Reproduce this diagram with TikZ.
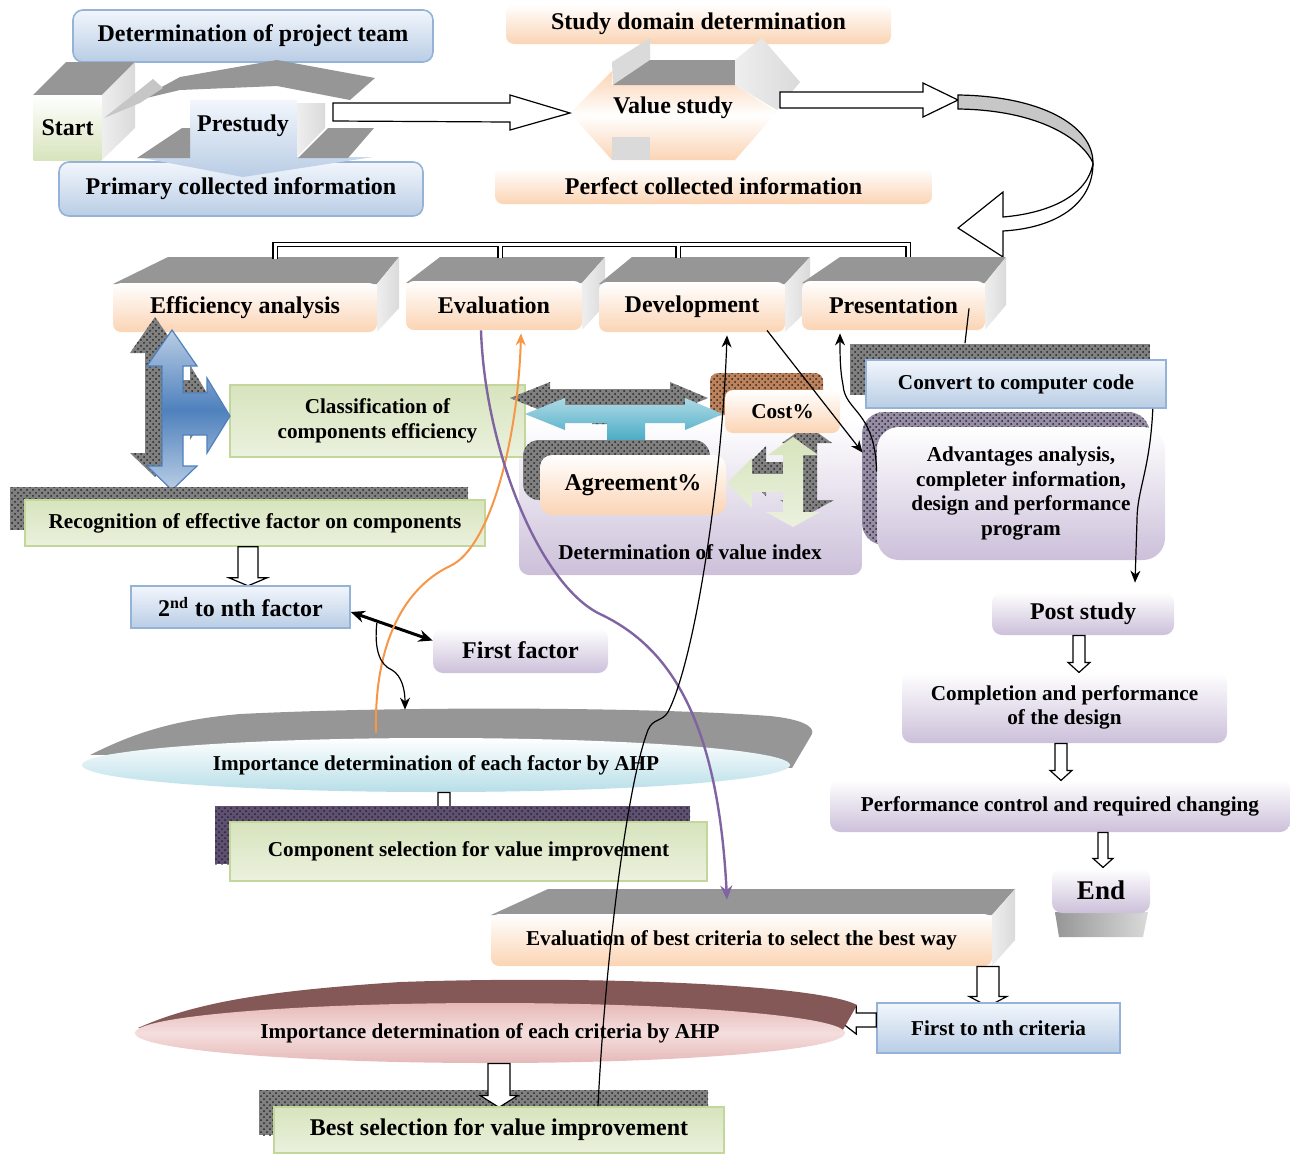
\documentclass[tikz,border=0pt]{standalone}
\usepackage{fontspec}
\setmainfont{Liberation Serif}
\usetikzlibrary{shapes.geometric, arrows.meta, positioning, calc, patterns}
\definecolor{cBlueTop}{RGB}{242, 246, 252}
\definecolor{cBlueBot}{RGB}{185, 205, 229}
\definecolor{bBlue}{RGB}{149, 179, 215}
\definecolor{bArrowBlue}{RGB}{79, 129, 189}
\definecolor{cPeach}{RGB}{251, 212, 180}
\definecolor{cGreenA}{RGB}{215, 228, 189}
\definecolor{cGreenB}{RGB}{235, 241, 222}
\definecolor{bGreen}{RGB}{195, 214, 155}
\definecolor{cLilac}{RGB}{204, 192, 218}
\definecolor{cSky}{RGB}{183, 222, 232}
\definecolor{cRose}{RGB}{230, 185, 184}
\definecolor{cRoseMid}{RGB}{244, 222, 221}
\definecolor{cMaroon}{RGB}{133, 88, 88}
\definecolor{cTopGray}{RGB}{150, 150, 150}
\definecolor{cSideGray}{RGB}{218, 218, 218}
\definecolor{cTeal}{RGB}{75, 172, 198}
\definecolor{cOrange}{RGB}{247, 150, 70}
\definecolor{cPurple}{RGB}{128, 100, 162}
\definecolor{cBrown}{RGB}{190, 130, 90}
\definecolor{cShdPlum}{RGB}{95, 80, 115}
\definecolor{cShdLilac}{RGB}{150, 140, 165}

% shapes of the split arrows, used twice (shadow and face)
\newcommand{\tealshape}{(525,414) -- (565,398) -- (565,405) -- (685,405) -- (685,398) -- (723,414) -- (685,430) -- (685,423) -- (645,423) -- (645,440) -- (607,440) -- (607,423) -- (565,423) -- (565,430) -- cycle}
\newcommand{\blueshape}{(172,330) -- (197,366) -- (183,366) -- (183,393) -- (207,393) -- (207,378) -- (230,416) -- (207,453) -- (207,435) -- (183,435) -- (183,466) -- (197,466) -- (172,490) -- (147,466) -- (162,466) -- (162,366) -- (147,366) -- cycle}
\newcommand{\greenshape}{(793,437) -- (818,455) -- (803,455) -- (803,512) -- (820,512) -- (793,527) -- (766,512) -- (783,512) -- (783,492) -- (752,492) -- (752,508) -- (727,483) -- (752,458) -- (752,474) -- (783,474) -- (783,455) -- (768,455) -- cycle}
% hollow block arrow: anchor, dx, shaft, half shaft, half head, head
\newcommand{\blockdown}[6]{%
  \draw[hollow] ($(#1)+(#2-#4,0)$) -- ++(2*#4,0) -- ++(0,#3) -- ++(#5-#4,0)
    -- ++(-#5,#6) -- ++(-#5,-#6) -- ++(#5-#4,0) -- cycle;}

\begin{document}
\begin{tikzpicture}[
    x=0.5pt, y=-0.5pt,
    >=Stealth,
    txtbig/.style={font=\bfseries\fontsize{12}{14}\selectfont},
    txtsmall/.style={font=\bfseries\fontsize{10.6}{12.2}\selectfont},
    bluebox/.style={draw=bBlue, line width=0.8pt, top color=cBlueTop, bottom color=cBlueBot, inner sep=0pt, align=center},
    peachbox/.style={rounded corners=4pt, top color=white, bottom color=cPeach, inner sep=0pt, align=center},
    greenbox/.style={draw=bGreen, line width=0.8pt, top color=cGreenA, bottom color=cGreenB, inner sep=0pt, align=center},
    lilacbox/.style={rounded corners=5pt, top color=white, bottom color=cLilac, inner sep=0pt, align=center},
    topface/.style={fill=cTopGray},
    sideface/.style={left color=cSideGray!45, right color=cSideGray},
    hollow/.style={draw=black, fill=white, line width=0.6pt},
    shd/.style={preaction={fill=#1}, pattern=crosshatch dots, pattern color=black!85},
    shd/.default=black!50,
    bracket/.style={double, line width=0.6pt, double distance=1.5pt},
    link/.style={-{Stealth[length=6pt, width=5pt]}, line width=0.6pt}
]
\useasboundingbox (0,0) rectangle (1290,1153);

% Prestudy
\node[bluebox, rounded corners=5pt, minimum width=180pt, minimum height=26pt, txtbig] (team) at (253,36) {Determination of project team};
\node[bluebox, rounded corners=5pt, minimum width=182pt, minimum height=27pt, txtbig] (prim) at (241,189) {Primary collected information};

\fill[topface] (33,95) -- (66,62) -- (135,62) -- (102,95) -- cycle;
\shade[sideface] (102,95) -- (135,62) -- (135,128) -- (102,160) -- cycle;
\node[top color=white, bottom color=cGreenA, minimum width=34pt, minimum height=32.5pt, inner sep=0pt, txtbig] (start) at (67.5,127.5) {Start};
\fill[topface] (350,100) -- (375,78) -- (277,60) -- (180,77) -- (138,100) -- (180,90) -- (277,86) -- cycle;
\fill[gray!45] (104,118) -- (153,79) -- (163,88) -- (140,103) -- cycle;
\shade[top color=cBlueTop, bottom color=cBlueBot] (190,100) -- (297,100) -- (297,157) -- (373,157) -- (243,177) -- (137,157) -- (190,157) -- cycle;
\shade[sideface] (297,103) -- (325,103) -- (325,128) -- (297,157) -- cycle;
\fill[topface] (137,158) -- (182,128) -- (190,128) -- (190,158) -- cycle;
\fill[topface] (298,158) -- (328,128) -- (374,128) -- (348,158) -- cycle;
\node[txtbig] (pre) at (243,126) {Prestudy};

% Value study
\node[peachbox, minimum width=192.5pt, minimum height=20pt, txtbig] (domain) at (698.5,24) {Study domain determination};
\node[peachbox, minimum width=218.5pt, minimum height=18pt, txtbig] (perf) at (713.5,186) {Perfect collected information};
\shade[top color=cPeach, bottom color=cPeach, middle color=white] (570,113) -- (612,71) -- (612,85) -- (735,85) -- (777,112) -- (735,160) -- (612,160) -- cycle;
\fill[cSideGray] (612,62) -- (650,38) -- (650,60) -- (613,85) -- cycle;
\fill[topface] (613,85) -- (650,60) -- (735,60) -- (735,85) -- cycle;
\shade[sideface] (735,60) -- (762,38) -- (800,82) -- (777,110) -- (735,85) -- cycle;
\fill[cSideGray] (612,137) -- (650,137) -- (650,160) -- (612,160) -- cycle;
\node[txtbig] (val) at (673,108) {Value study};

\coordinate (preR) at (333,112);
\coordinate (valL) at (570,113);
\coordinate (valR) at (780,100);
\coordinate (turnA) at (958,100);
\draw[hollow] ($(preR)+(0,-9)$) -- ++(177,0) -- ++(0,-8) -- (valL) -- ++(-60,17) -- ++(0,-8) -- ($(preR)+(0,9)$) -- cycle;
\draw[hollow] ($(valR)+(0,-8)$) -- ++(143,0) -- ++(0,-9) -- (turnA) -- ++(-35,17) -- ++(0,-9) -- ($(valR)+(0,8)$) -- cycle;
\fill[black!22, draw=black, line width=0.6pt] (958,95) .. controls (1040,96) and (1093,125) .. (1093,163) .. controls (1083,140) and (1040,110) .. (958,109) -- cycle;
\draw[hollow] (1093,163) .. controls (1093,205) and (1055,228) .. (1003,231) -- (1003,257) -- (958,228) -- (1003,192) -- (1003,217) .. controls (1050,213) and (1088,195) .. (1093,163) -- cycle;

% Study phases
\fill[topface] (113,284) -- (168,257) -- (399,257) -- (377,284) -- cycle;
\shade[sideface] (377,284) -- (399,257) -- (399,308) -- (377,332) -- cycle;
\fill[topface] (406,283) -- (440,257) -- (605,257) -- (582,283) -- cycle;
\shade[sideface] (582,283) -- (605,257) -- (605,305) -- (582,330) -- cycle;
\fill[topface] (599,284) -- (632,257) -- (810,257) -- (785,284) -- cycle;
\shade[sideface] (785,284) -- (810,257) -- (810,308) -- (785,332) -- cycle;
\fill[topface] (802,283) -- (840,257) -- (1006,257) -- (985,283) -- cycle;
\shade[sideface] (985,283) -- (1006,257) -- (1006,305) -- (985,330) -- cycle;
\node[peachbox, minimum width=132pt, minimum height=24.5pt, txtbig] (effic) at (245,307.5) {Efficiency analysis};
\node[peachbox, minimum width=88pt, minimum height=24.5pt, txtbig] (evalu) at (494,305.5) {Evaluation};
\node[peachbox, minimum width=93pt, minimum height=25pt, txtbig] (devel) at (692,307) {Development};
\node[peachbox, minimum width=91.5pt, minimum height=24.5pt, txtbig] (presen) at (893.5,305.5) {Presentation};

\draw[bracket] ($(effic.north)+(30,-24)$) |- ($(presen.north)+(14.5,-36)$) -- ++(0,12);
\draw[bracket] ($(evalu.north)+(6,-35)$) -- ++(0,12);
\draw[bracket] ($(devel.north)+(-14,-36)$) -- ++(0,12);

% Presentation side
\fill[shd] (850,344) rectangle (1150,395);
\node[bluebox, minimum width=150pt, minimum height=24pt, txtsmall] (conv) at (1016,384) {Convert to computer code};
\fill[shd=cShdLilac, rounded corners=11pt] (862,412) rectangle (1150,545);
\node[lilacbox, rounded corners=11pt, minimum width=144pt, minimum height=66.5pt, txtsmall] (adv) at (1021,493.5) {Advantages analysis,\\completer information,\\design and performance\\program};

% Value index
\node[lilacbox, minimum width=171.5pt, minimum height=77.5pt] (valbox) at (690.5,497.5) {};
\node[txtsmall] (valtxt) at (690,552) {Determination of value index};
\node[greenbox, minimum width=147.5pt, minimum height=36pt, txtsmall] (class) at (377.5,421) {Classification of\\components efficiency};
\fill[shd=cBrown, rounded corners=4pt] (710,373) rectangle (823,415);
\fill[shd, shift={(-15,-16)}] \tealshape;
\shade[top color=cTeal!45, bottom color=cTeal] \tealshape;
\fill[shd, rounded corners=8pt] (523,440) rectangle (710,500);
\node[peachbox, rounded corners=6pt, minimum width=93pt, minimum height=30pt, txtbig] (agree) at (633,485) {Agreement\%};
\fill[shd, shift={(14,-12)}] \greenshape;
\shade[top color=cGreenA, bottom color=cGreenB] \greenshape;
\node[peachbox, minimum width=57.5pt, minimum height=21.5pt, txtsmall] (cost) at (782.5,411.5) {Cost\%};

% Efficiency analysis side
\fill[shd, shift={(-17,-13)}] \blueshape;
\shade[top color=cBlueBot, bottom color=cBlueBot, middle color=bArrowBlue, draw=bArrowBlue, line width=0.6pt] \blueshape;
\fill[shd] (10,487) rectangle (468,530);
\node[greenbox, minimum width=230pt, minimum height=23pt, txtsmall] (recog) at (255,523) {Recognition of effective factor on components};
\blockdown{recog.south}{-7}{31}{10}{19}{8}
\node[bluebox, minimum width=109.5pt, minimum height=21pt, txtbig] (second) at (240.5,607) {2\textsuperscript{nd} to nth factor};
\node[lilacbox, minimum width=87.5pt, minimum height=22.5pt, txtbig] (first) at (520.5,650.5) {First factor};
\draw[{Stealth[length=7pt, width=6pt]}-{Stealth[length=7pt, width=6pt]}, line width=1.5pt] ($(second.east)+(0,5)$) -- ($(first.west)+(0,-10)$);

% Factor weighting
\fill[cTopGray] (90,755) .. controls (130,735) and (170,720) .. (240,714) .. controls (400,706) and (650,707) .. (770,716) .. controls (800,719) and (815,726) .. (812,734) -- (792,768) -- (436,750) -- cycle;
\node[ellipse, top color=white, bottom color=cSky, minimum width=354pt, minimum height=27pt, inner sep=0pt, txtsmall] (imp1) at (436,765) {Importance determination of each factor by AHP};
\blockdown{imp1.south}{8}{16}{6}{10}{6}
\fill[shd=cShdPlum] (215,806) rectangle (690,864);
\node[greenbox, minimum width=238.5pt, minimum height=29.5pt, txtsmall] (compsel) at (468.5,851.5) {Component selection for value improvement};

% Criteria weighting
\fill[topface] (491,915) -- (548,889) -- (1015,889) -- (992,915) -- cycle;
\shade[sideface] (992,915) -- (1015,889) -- (1015,940) -- (992,966) -- cycle;
\node[peachbox, minimum width=250.5pt, minimum height=26pt, txtsmall] (bestcrit) at (741.5,940) {Evaluation of best criteria to select the best way};
\blockdown{bestcrit.south}{246.5}{30}{11}{19}{10}
\node[bluebox, minimum width=121.5pt, minimum height=25pt, txtsmall] (firstn) at (998.5,1028) {First to nth criteria};
\draw[hollow] ($(firstn.west)+(0,-15)$) -- ++(-20,0) -- ++(0,-7) -- ++(-18,14) -- ++(18,14) -- ++(0,-7) -- ++(20,0) -- cycle;
\fill[cMaroon] (138,1028) .. controls (200,1000) and (280,990) .. (400,982) .. controls (600,975) and (820,985) .. (857,1005) -- (840,1035) -- (490,1015) -- cycle;
\node[ellipse, top color=cRose, bottom color=cRose, middle color=cRoseMid, minimum width=355pt, minimum height=30pt, inner sep=0pt, txtsmall] (imp2) at (490,1033) {Importance determination of each criteria by AHP};
\fill[shd] (259,1090) rectangle (708,1135);
\blockdown{imp2.south}{9}{32}{11}{19}{12}
\node[greenbox, minimum width=225pt, minimum height=23pt, txtbig] (bestsel) at (499,1130) {Best selection for value improvement};

% Post study
\node[lilacbox, minimum width=91pt, minimum height=21.5pt, txtbig] (post) at (1083,613.5) {Post study};
\node[lilacbox, minimum width=162.5pt, minimum height=35.5pt, txtsmall] (compl) at (1064.5,707.5) {Completion and performance\\of the design};
\node[lilacbox, minimum width=230pt, minimum height=26pt, txtsmall] (perfc) at (1060,806) {Performance control and required changing};
\shade[left color=cTopGray, right color=cSideGray] (1055,912) -- (1148,912) -- (1143,937) -- (1059,937) -- cycle;
\node[lilacbox, minimum width=49pt, minimum height=22.5pt, font=\bfseries\fontsize{13.5}{15}\selectfont] (endn) at (1101,890.5) {End};
\blockdown{post.south}{-4}{27}{6}{11}{10}
\blockdown{compl.south}{-3.5}{27}{6}{11}{10}
\blockdown{perfc.south}{43}{26}{5}{10}{9}

% Feedback links
\draw[-{Stealth[length=6pt, width=5pt]}, cOrange, line width=1pt] ($(imp1.north)+(-60,-5)$) .. controls (374,650) and (400,590) .. (450,566) .. controls (490,548) and (518,440) .. ($(evalu.south)+(27,3)$);
\draw[-{Stealth[length=7pt, width=6pt]}, cPurple, line width=1.2pt] ($(evalu.south)+(-13,0)$) .. controls (485,450) and (540,585) .. (600,614) .. controls (670,647) and (718,720) .. ($(bestcrit.north)+(-14.5,-14)$);
\draw[link] ($(bestsel.north)+(99,0)$) .. controls (604,980) and (625,790) .. (648,730) .. controls (653,718) and (662,722) .. (668,712) .. controls (695,660) and (722,480) .. ($(devel.south)+(35,3)$);
\draw[link] ($(devel.south)+(75,-2)$) -- ($(adv.north west)+(-14,26)$);
\draw[link] ($(adv.west)+(0,-22)$) .. controls (875,410) and (845,412) .. (843,385) .. controls (840,370) and (840,355) .. ($(presen.south)+(-53.5,3)$);
\draw[line width=0.6pt] ($(presen.south)+(75.5,-22)$) -- ($(conv.north)+(-51,-16)$);
\draw[link] ($(conv.south east)+(-14,0)$) .. controls (1150,470) and (1137,490) .. (1137,520) -- ($(post.north)+(52,-9)$);
\draw[link] ($(second.east)+(26,16)$) .. controls (374,650) and (380,665) .. (392,670) .. controls (402,676) and (405,690) .. ($(imp1.north)+(-31,-28)$);

\end{tikzpicture}
\end{document}
